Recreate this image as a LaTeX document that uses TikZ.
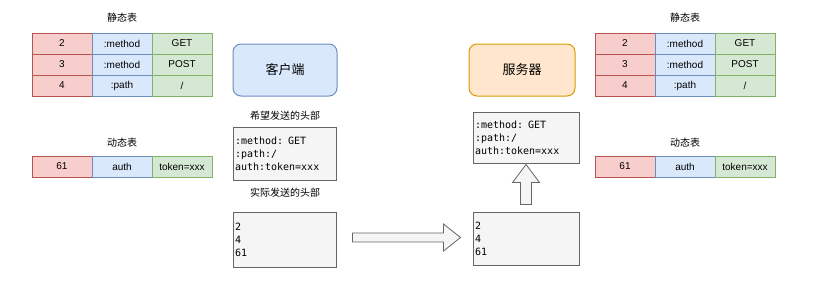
\documentclass[tikz,border=0pt]{standalone}
\usepackage{fontspec}
\setmainfont{Liberation Sans}
\setmonofont{DejaVu Sans Mono}
\newfontfamily\cjk{Noto Sans CJK SC}
\usepackage{xcolor}
\usepackage{tikz}
\usetikzlibrary{calc}

\definecolor{keyfill}{HTML}{F8CECC}
\definecolor{keyline}{HTML}{B85450}
\definecolor{namefill}{HTML}{DAE8FC}
\definecolor{nameline}{HTML}{6C8EBF}
\definecolor{valfill}{HTML}{D5E8D4}
\definecolor{valline}{HTML}{82B366}
\definecolor{srvfill}{HTML}{FFE6CC}
\definecolor{srvline}{HTML}{D79B00}
\definecolor{hdrfill}{HTML}{F5F5F5}
\definecolor{hdrline}{HTML}{666666}

\tikzset{
  cell/.style={draw,line width=1pt,minimum width=60pt,minimum height=21pt,
    inner sep=0pt,font=\fontsize{10}{12}\selectfont},
  keycell/.style={cell,fill=keyfill,draw=keyline},
  namecell/.style={cell,fill=namefill,draw=nameline},
  valcell/.style={cell,fill=valfill,draw=valline},
  caption/.style={font=\cjk\fontsize{10}{12}\selectfont},
  peer/.style={draw,line width=1pt,rounded corners=8pt,minimum height=52pt,
    font=\cjk\fontsize{13}{15}\selectfont},
  hdrbox/.style={draw=hdrline,fill=hdrfill,line width=1pt,align=left,
    inner xsep=2pt,inner ysep=0pt,font=\ttfamily\fontsize{10}{13}\selectfont},
  blockarrow/.style={draw=hdrline,fill=hdrfill,line width=0.8pt,line join=miter}
}

\begin{document}
\begin{tikzpicture}[x=1pt,y=-1pt]
  \useasboundingbox (0,0) rectangle (817,281);

  % client side tables
  \node[caption] at (122,18) {静态表};
  \node[keycell]  (ls11) at (62,43.5)  {2};
  \node[namecell] (ls12) at (122,43.5) {:method};
  \node[valcell]  (ls13) at (182,43.5) {GET};
  \node[keycell]  (ls21) at (62,64.5)  {3};
  \node[namecell] (ls22) at (122,64.5) {:method};
  \node[valcell]  (ls23) at (182,64.5) {POST};
  \node[keycell]  (ls31) at (62,85.5)  {4};
  \node[namecell] (ls32) at (122,85.5) {:path};
  \node[valcell]  (ls33) at (182,85.5) {/};
  \node[caption] at (122,143) {动态表};
  \node[keycell]  (ld11) at (62,166.5)  {61};
  \node[namecell] (ld12) at (122,166.5) {auth};
  \node[valcell]  (ld13) at (182,166.5) {token=xxx};

  % server side tables
  \node[caption] at (685,18) {静态表};
  \node[keycell]  (rs11) at (625,43.5) {2};
  \node[namecell] (rs12) at (685,43.5) {:method};
  \node[valcell]  (rs13) at (745,43.5) {GET};
  \node[keycell]  (rs21) at (625,64.5) {3};
  \node[namecell] (rs22) at (685,64.5) {:method};
  \node[valcell]  (rs23) at (745,64.5) {POST};
  \node[keycell]  (rs31) at (625,85.5) {4};
  \node[namecell] (rs32) at (685,85.5) {:path};
  \node[valcell]  (rs33) at (745,85.5) {/};
  \node[caption] at (685,143) {动态表};
  \node[keycell]  (rd11) at (625,166.5) {61};
  \node[namecell] (rd12) at (685,166.5) {auth};
  \node[valcell]  (rd13) at (745,166.5) {token=xxx};

  % client
  \node[peer,fill=namefill,draw=nameline,minimum width=104pt] (client) at (285,70) {客户端};
  \node[caption] at (285,116) {希望发送的头部};
  \node[hdrbox,text width=99pt,minimum height=53pt] (cb1) at (284.5,153.5)
    {:method: GET\\:path:/\\auth:token=xxx};
  \node[caption] at (285,193) {实际发送的头部};
  \node[hdrbox,text width=99pt,minimum height=55pt] (cb2) at (284.5,239.5)
    {2\\4\\61};

  % server
  \node[peer,fill=srvfill,draw=srvline,minimum width=106pt] (server) at (522,70) {服务器};
  \node[hdrbox,text width=102pt,minimum height=51pt] (sb1) at (526,137.5)
    {:method: GET\\:path:/\\auth:token=xxx};
  \node[hdrbox,text width=102pt,minimum height=53pt] (sb2) at (526,238.5)
    {2\\4\\61};

  % block arrows
  \draw[blockarrow] ($(cb2.east)+(16,-6.5)$) -- ++(91,0) -- ++(0,-9)
    -- ++(17,13.5) -- ++(-17,13.5) -- ++(0,-9) -- ++(-91,0) -- cycle;
  \draw[blockarrow] ($(sb2.north)+(-5.5,-7)$) -- ++(0,-22) -- ++(-8,0)
    -- ++(13.5,-18) -- ++(13.5,18) -- ++(-8,0) -- ++(0,22) -- cycle;
\end{tikzpicture}
\end{document}
